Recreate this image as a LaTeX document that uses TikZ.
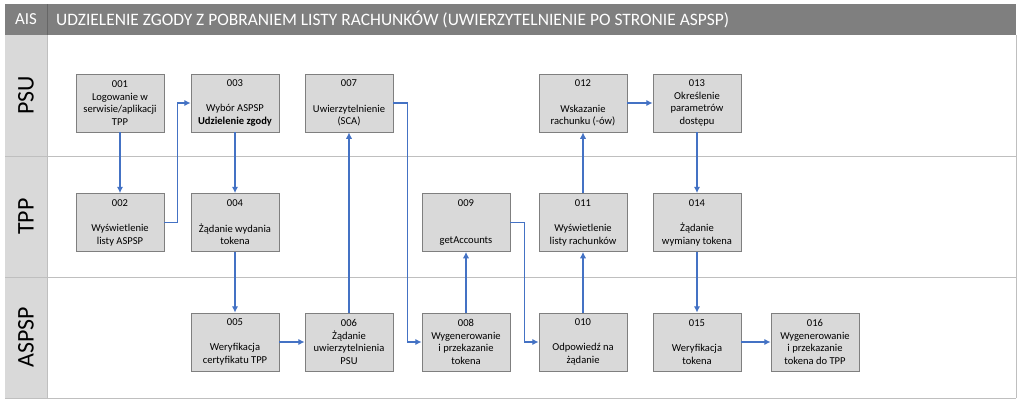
\documentclass[tikz,border=0pt]{standalone}
\usepackage{fontspec}
\setmainfont{Carlito}
\usepackage{xcolor}
\usepackage{tikz}
\usetikzlibrary{positioning,calc,arrows.meta}

\definecolor{hdrgray}{HTML}{7F7F7F}
\definecolor{lanegray}{HTML}{D9D9D9}
\definecolor{rulegray}{HTML}{BFBFBF}
\definecolor{flowblue}{HTML}{4472C4}

\tikzset{
  stepbox/.style={draw=hdrgray, fill=lanegray, line width=0.6pt, minimum width=2.2cm,
    minimum height=1.45cm, inner sep=1pt, align=center, font=\fontsize{7.5}{9}\selectfont},
  flow/.style={draw=flowblue, line width=0.8pt, -{Latex[length=4.5pt,width=4.5pt]}},
  lanelabel/.style={rotate=90, font=\fontsize{17}{20}\selectfont},
}

\begin{document}
\begin{tikzpicture}
  \useasboundingbox (0,0) rectangle (25.6,10.175);

  % Header
  \fill[hdrgray] (0.125,9.3) rectangle (25.4,10.075);
  \draw[black!60] (1.175,9.3) -- (1.175,10.075);
  \node[white, font=\fontsize{12}{14}\selectfont] (ais) at (0.65,9.6875) {AIS};
  \node[white, anchor=west, font=\fontsize{12.4}{14}\selectfont] (title) at (1.28,9.6875)
    {UDZIELENIE ZGODY Z POBRANIEM LISTY RACHUNKÓW (UWIERZYTELNIENIE PO STRONIE ASPSP)};

  % Lanes
  \fill[lanegray] (0.125,0.225) rectangle (1.175,9.3);
  \draw[rulegray] (0.125,6.275) -- (25.4,6.275);
  \draw[rulegray] (0.125,3.25) -- (25.4,3.25);
  \draw[rulegray] (0.125,0.225) -- (25.4,0.225);
  \draw[rulegray] (25.4,0.225) -- (25.4,9.3);
  \draw[rulegray] (1.175,0.225) -- (1.175,9.3);
  \node[lanelabel] (psu) at (0.65,7.7875) {PSU};
  \node[lanelabel] (tpp) at (0.65,4.7625) {TPP};
  \node[lanelabel] (aspsp) at (0.65,1.7375) {ASPSP};

  % PSU steps
  \node[stepbox] (s001) at (3.0,7.6) {001\\Logowanie w\\serwisie/aplikacji\\TPP};
  \node[stepbox] (s003) at (5.875,7.6) {003\\~\\Wybór ASPSP\\\textbf{Udzielenie zgody}};
  \node[stepbox] (s007) at (8.725,7.6) {007\\~\\Uwierzytelnienie\\(SCA)};
  \node[stepbox] (s012) at (14.575,7.6) {012\\~\\Wskazanie\\rachunku (-ów)};
  \node[stepbox] (s013) at (17.425,7.6) {013\\Określenie\\parametrów\\dostępu};

  % TPP steps
  \node[stepbox] (s002) at (3.0,4.6125) {002\\~\\Wyświetlenie\\listy ASPSP};
  \node[stepbox] (s004) at (5.875,4.6125) {004\\~\\Żądanie wydania\\tokena};
  \node[stepbox] (s009) at (11.65,4.6125) {009\\~\\~\\getAccounts};
  \node[stepbox] (s011) at (14.575,4.6125) {011\\~\\Wyświetlenie\\listy rachunków};
  \node[stepbox] (s014) at (17.425,4.6125) {014\\~\\Żądanie\\wymiany tokena};

  % ASPSP steps
  \node[stepbox] (s005) at (5.875,1.625) {005\\~\\Weryfikacja\\certyfikatu TPP};
  \node[stepbox] (s006) at (8.725,1.625) {006\\Żądanie\\uwierzytelnienia\\PSU};
  \node[stepbox] (s008) at (11.65,1.625) {008\\Wygenerowanie\\i przekazanie\\tokena};
  \node[stepbox] (s010) at (14.575,1.625) {010\\~\\Odpowiedź na\\żądanie};
  \node[stepbox] (s015) at (17.425,1.625) {015\\~\\Weryfikacja\\tokena};
  \node[stepbox] (s016) at (20.375,1.625) {016\\Wygenerowanie\\i przekazanie\\tokena do TPP};

  % Flow
  \draw[flow] (s001) -- (s002);
  \draw[flow] (s002.east) -- ++(0.325,0) |- (s003.west);
  \draw[flow] (s003) -- (s004);
  \draw[flow] (s004) -- (s005);
  \draw[flow] (s005) -- (s006);
  \draw[flow] (s006) -- (s007);
  \draw[flow] (s007.east) -- ++(0.35,0) |- (s008.west);
  \draw[flow] (s008) -- (s009);
  \draw[flow] (s009.east) -- ++(0.35,0) |- (s010.west);
  \draw[flow] (s010) -- (s011);
  \draw[flow] (s011) -- (s012);
  \draw[flow] (s012) -- (s013);
  \draw[flow] (s013) -- (s014);
  \draw[flow] (s014) -- (s015);
  \draw[flow] (s015) -- (s016);
\end{tikzpicture}
\end{document}
